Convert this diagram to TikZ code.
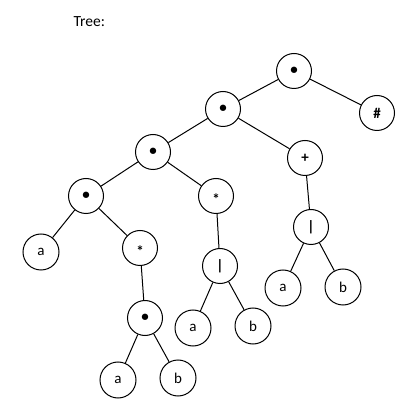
\documentclass[tikz,border=0pt]{standalone}
\usepackage{fontspec}
\setmainfont{Carlito}

\begin{document}
\begin{tikzpicture}[x=1pt, y=-1pt,
    op/.style={circle, draw, line width=1pt, minimum size=35pt, inner sep=0pt, font=\fontsize{15}{15}\selectfont\bfseries},
    leaf/.style={circle, draw, line width=1pt, minimum size=36pt, inner sep=0pt, font=\fontsize{15}{15}\selectfont},
    starop/.style={op, font=\fontsize{15}{15}\selectfont\bfseries},
    edge/.style={line width=1pt}]
  \useasboundingbox (0,0) rectangle (412,411);
  \node[anchor=west, font=\fontsize{15.5}{16}\selectfont] (title) at (70,22) {Tree:};
  \node[op] (v1) at (294,71) {•};
  \node[op] (v2) at (223,109) {•};
  \node[op] (l1) at (377,113) {\#};
  \node[op] (v3) at (153,152) {•};
  \node[op] (v4) at (305,158) {+};
  \node[op] (v5) at (86,196) {•};
  \node[starop] (v6) at (216,196) {\raisebox{-0.6em}[0pt][0pt]{*}};
  \node[op] (v7) at (311,227) {|};
  \node[leaf] (l2) at (41,252) {a};
  \node[starop] (v8) at (140,248) {\raisebox{-0.6em}[0pt][0pt]{*}};
  \node[op] (v9) at (220,266) {|};
  \node[leaf] (l3) at (283,288) {a};
  \node[leaf] (l4) at (343,287) {b};
  \node[op] (v10) at (145,318) {•};
  \node[leaf] (l5) at (193,328) {a};
  \node[leaf] (l6) at (253,326) {b};
  \node[leaf] (l7) at (118,380) {a};
  \node[leaf] (l8) at (178,378) {b};
  \draw[edge] (v1) -- (v2);
  \draw[edge] (v1) -- (l1);
  \draw[edge] (v2) -- (v3);
  \draw[edge] (v2) -- (v4);
  \draw[edge] (v3) -- (v5);
  \draw[edge] (v3) -- (v6);
  \draw[edge] (v4) -- (v7);
  \draw[edge] (v5) -- (l2);
  \draw[edge] (v5) -- (v8);
  \draw[edge] (v6) -- (v9);
  \draw[edge] (v7) -- (l3);
  \draw[edge] (v7) -- (l4);
  \draw[edge] (v8) -- (v10);
  \draw[edge] (v9) -- (l5);
  \draw[edge] (v9) -- (l6);
  \draw[edge] (v10) -- (l7);
  \draw[edge] (v10) -- (l8);
\end{tikzpicture}
\end{document}
